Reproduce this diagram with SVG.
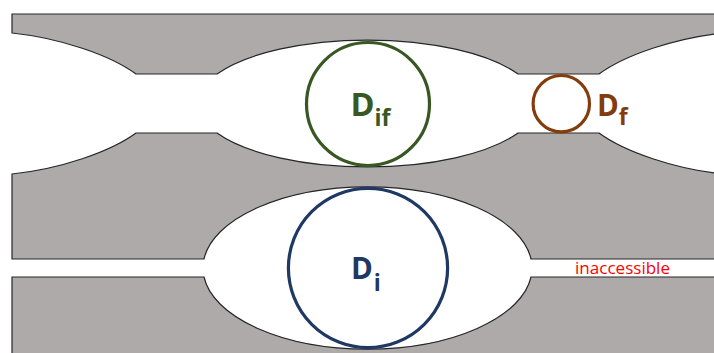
<svg xmlns="http://www.w3.org/2000/svg" width="714" height="353" viewBox="0 0 714 353">
<style>
.wall{fill:#AEAAAA;stroke:#262626;stroke-width:1.2;stroke-linejoin:miter}
.pore{fill:none;stroke-width:3.2}
.lbl{font-family:"Open Sans","Liberation Sans",sans-serif;font-weight:700}
</style>
<rect width="714" height="353" fill="#FFFFFF"/>
<g id="walls">
<path id="wall-top" class="wall" d="M12,14 H723 V33 C675,38 625,55 599,74 H518 A170,63.5 0 0 0 217,74 H136 C110,55 60,38 12,33 Z"/>
<path id="wall-middle" class="wall" d="M12,174 C60,169 110,152 136,133 H217 A170,63.5 0 0 0 518,133 H599 C625,152 675,169 723,174 V259 H531 A164.5,81 0 0 0 204,259 H12 Z"/>
<path id="wall-bottom" class="wall" d="M12,277 H204 A164.5,81 0 0 0 531,277 H723 V362 H12 Z"/>
</g>
<g id="connectors"/>
<g id="node-dif">
<circle class="pore" cx="368" cy="104" r="61.5" stroke="#385723"/>
<text class="lbl" fill="#385723" font-size="32.5" x="350.5" y="116">D<tspan dy="10" font-size="23">if</tspan></text>
</g>
<g id="node-df">
<circle class="pore" cx="561.3" cy="103.7" r="28.2" stroke="#843C0C"/>
<text class="lbl" fill="#843C0C" font-size="29.5" x="597" y="116">D<tspan dy="9" font-size="23">f</tspan></text>
</g>
<g id="node-di">
<circle class="pore" cx="368" cy="268" r="79.6" stroke="#1F3864"/>
<text class="lbl" fill="#1F3864" font-size="29.5" x="351" y="279">D<tspan dx="1" dy="11.5" font-size="23">i</tspan></text>
</g>
<g id="node-inaccessible">
<text font-family="'Open Sans','Liberation Sans',sans-serif" font-size="15.5" fill="#FF0000" x="575" y="274.3" textLength="95" lengthAdjust="spacingAndGlyphs">inaccessible</text>
</g>
</svg>
